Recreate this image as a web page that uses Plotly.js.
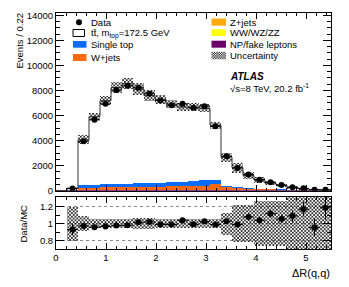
<!DOCTYPE html>
<html><head><meta charset="utf-8">
<script src="https://cdn.plot.ly/plotly-3.0.1.min.js"></script>
<style>html,body{margin:0;padding:0;background:#fff}</style>
</head><body><div id="chart" style="width:349px;height:287px"></div>
<script>
// ---------- data ----------
const binWidth = 0.22;
const binCenters = [0.11,0.33,0.55,0.77,0.99,1.21,1.43,1.65,1.87,2.09,2.31,2.53,2.75,2.97,3.19,3.41,3.63,3.85,4.07,4.29,4.51,4.73,4.95,5.17,5.39];
const dataEvents = [null,184,3944,5653,6933,8027,8373,8213,7733,7200,6827,6933,6613,6747,5147,2747,1813,1300,880,667,453,267,187,80,70];
const ttbar      = [0,111,3602,5433,6680,7694,7989,7512,6984,6657,6255,5983,5866,5750,4380,2275,1539,1006,677,457,315,155,90,34,19];
const singleTop  = [0,20,216,230,245,260,275,285,295,305,315,335,420,420,320,104,83,40,40,30,20,5,5,5,2];
const wJets      = [0,20,169,179,189,199,207,222,237,252,267,282,304,324,434,237,160,109,82,63,49,40,31,12,5];
const zJets      = [0,5,20,20,20,20,22,22,22,22,22,22,25,25,25,15,10,8,6,5,4,3,3,2,2];
const diboson    = [0,2,6,6,6,6,6,6,6,6,6,6,6,6,6,4,3,3,2,2,2,2,1,1,1];
const npFake     = [20,40,45,45,45,45,45,45,45,45,45,45,45,45,45,40,40,40,40,40,40,40,30,30,30];
const relUncertainty = [null,0.2,0.09,0.05,0.05,0.05,0.05,0.06,0.06,0.05,0.05,0.05,0.05,0.05,0.05,0.13,0.22,0.22,0.27,0.27,0.27,0.4,0.4,0.4,0.4];
const ratioTicks = [0.8,1,1.2];
const ratioTickText = ['0.8','1','1.2'];

const colors = {tt:'#ffffff', st:'#0a6cff', wj:'#ff6a10', zj:'#ffaa10', vv:'#ffff10', np:'#6a006a'};
const FONT = 'Liberation Sans, Arial, Helvetica, sans-serif';

// ---------- derived ----------
const n = binCenters.length;
const stackOrder = [npFake, diboson, zJets, wJets, singleTop, ttbar];
const stackColors = [colors.np, colors.vv, colors.zj, colors.wj, colors.st, colors.tt];
const stackNames = ['NP/fake leptons','WW/WZ/ZZ','Z+jets','W+jets','Single top','tt̄'];
let cum = new Array(n).fill(0);
const traces = [];
stackOrder.forEach((arr, k) => {
  const base = cum.slice();
  traces.push({type:'bar', x:binCenters, y:arr, base:base, width:binWidth,
    marker:{color:stackColors[k], line:{width:0}}, name:stackNames[k],
    xaxis:'x', yaxis:'y', showlegend:false, hoverinfo:'skip'});
  cum = cum.map((c,i)=>c+arr[i]);
});
const totalMC = cum;
const hatch = {shape:'x', size:2.5, solidity:0.55, fgcolor:'#222', bgcolor:'rgba(0,0,0,0)'};
// uncertainty band main
traces.push({type:'bar', x:binCenters,
  y:totalMC.map((t,i)=> relUncertainty[i]==null?null:2*relUncertainty[i]*t),
  base:totalMC.map((t,i)=> relUncertainty[i]==null?null:t*(1-relUncertainty[i])),
  width:binWidth, xaxis:'x', yaxis:'y', showlegend:false,
  marker:{color:'rgba(0,0,0,0)', line:{width:0}, pattern:hatch}});
// ratio band
traces.push({type:'bar', x:binCenters,
  y:relUncertainty.map(u=> u==null?null:2*u),
  base:relUncertainty.map(u=> u==null?null:1-u),
  width:binWidth, xaxis:'x2', yaxis:'y2', showlegend:false,
  marker:{color:'rgba(0,0,0,0)', line:{width:0}, pattern:hatch}});
// outline step of total MC
const edges = binCenters.map(c=>c-binWidth/2).concat([binCenters[n-1]+binWidth/2]);
traces.push({type:'scatter', mode:'lines', x:edges, y:totalMC.concat([totalMC[n-1]]),
  line:{shape:'hv', color:'#333', width:1}, xaxis:'x', yaxis:'y', showlegend:false});
// data points
const dataErr = dataEvents.map(d=> d==null?null:Math.sqrt(d));
traces.push({type:'scatter', mode:'markers', x:binCenters, y:dataEvents,
  marker:{color:'#000', size:6}, xaxis:'x', yaxis:'y', showlegend:false,
  error_y:{type:'data', array:dataErr, color:'#000', thickness:1, width:0},
  error_x:{type:'constant', value:binWidth/2, color:'#000', thickness:1, width:0}});
const ratio = dataEvents.map((d,i)=> d==null?null:d/totalMC[i]);
const ratioErr = dataEvents.map((d,i)=> d==null?null:Math.sqrt(d)/totalMC[i]);
traces.push({type:'scatter', mode:'markers', x:binCenters, y:ratio,
  marker:{color:'#000', size:6}, xaxis:'x2', yaxis:'y2', showlegend:false,
  error_y:{type:'data', array:ratioErr, color:'#000', thickness:1, width:0},
  error_x:{type:'constant', value:binWidth/2, color:'#000', thickness:1, width:0}});

// ---------- layout helpers (pixel -> paper) ----------
const M = {l:56, r:18, t:13, b:38};
const PW = 349 - M.l - M.r, PH = 287 - M.t - M.b;
const px = p => (p - M.l)/PW;
const py = p => (287 - M.b - p)/PH;

const shapes = [];
const annotations = [];
function txt(x,y,t,size,opts){
  annotations.push(Object.assign({xref:'paper',yref:'paper',x:px(x),y:py(y),text:t,showarrow:false,
    xanchor:'left',yanchor:'middle',font:{family:FONT,size:size,color:'#000'}},opts||{}));
}
function box(x0,y0,x1,y1,fill,line){
  shapes.push({type:'rect',xref:'paper',yref:'paper',x0:px(x0),x1:px(x1),y0:py(y1),y1:py(y0),
    fillcolor:fill,line:{color:line||fill,width:line?1:0}});
}
// legend left column
const legLeft = [['Data',22.3],['tt̄, m<sub>top</sub>=172.5 GeV',33],['Single top',44.3],['W+jets',57.3]];
shapes.push({type:'circle',xref:'paper',yref:'paper',x0:px(76),x1:px(82),y0:py(25.3),y1:py(19.3),fillcolor:'#000',line:{width:0}});
box(73,29.5,84.5,36.5,'#fff','#000');
box(73,41,86.5,47.7,colors.st);
box(73,54,86.5,61,colors.wj);
legLeft.forEach(e=>txt(89.3,e[1],e[0],9.5));
// legend right column
const legRight = [['Z+jets',22],['WW/WZ/ZZ',32.7],['NP/fake leptons',44.2],['Uncertainty',55.5]];
box(211.5,18.5,226,25.7,colors.zj);
box(211.5,29.3,226,36,colors.vv);
box(211.5,40.7,226,47.7,colors.np);
// hatched legend box: checker path
(function(){
  const x0=211.5,x1=226,y0=51.7,y1=59.3,s=1.2;
  let d='';
  for(let yy=y0, r=0; yy<y1-0.01; yy+=s, r++){
    for(let xx=x0+(r%2)*s; xx<x1-0.01; xx+=2*s){
      const xe=Math.min(xx+s,x1), ye=Math.min(yy+s,y1);
      d+='M'+px(xx)+','+py(yy)+'L'+px(xe)+','+py(yy)+'L'+px(xe)+','+py(ye)+'L'+px(xx)+','+py(ye)+'Z';
    }
  }
  shapes.push({type:'path',xref:'paper',yref:'paper',path:d,fillcolor:'#222',line:{width:0}});
})();
legRight.forEach(e=>txt(228.3,e[1],e[0],9.5));
// ATLAS label
txt(228.3,76.7,'<b><i>ATLAS</i></b>',10);
txt(228.3,88.3,'√s=8 TeV, 20.2 fb<sup>-1</sup>',9.5);
// axis titles
annotations.push({xref:'paper',yref:'paper',x:px(19),y:py(12),text:'Events / 0.22',textangle:-90,showarrow:false,
  xanchor:'center',yanchor:'top',font:{family:FONT,size:9.5,color:'#000'}});
annotations.push({xref:'paper',yref:'paper',x:px(22.5),y:py(224),text:'Data/MC',textangle:-90,showarrow:false,
  xanchor:'center',yanchor:'middle',font:{family:FONT,size:9.5,color:'#000'}});
annotations.push({xref:'paper',yref:'paper',x:px(331.5),y:py(273.3),text:'ΔR(q,q)',showarrow:false,
  xanchor:'right',yanchor:'middle',font:{family:FONT,size:11,color:'#000'}});

const axCommon = {showline:true, linecolor:'#000', linewidth:1, mirror:'ticks', ticks:'inside',
  tickcolor:'#000', zeroline:false, showgrid:false, tickfont:{family:FONT,size:9.5,color:'#000'}};
const layout = {
  width:349, height:287, margin:M, paper_bgcolor:'#fff', plot_bgcolor:'#fff',
  barmode:'overlay', bargap:0, showlegend:false,
  font:{family:FONT,size:9.5,color:'#000'},
  xaxis:Object.assign({}, axCommon, {domain:[0,1], anchor:'y', range:[0,5.5], dtick:1, tick0:0, ticklen:6,
    showticklabels:false, matches:'x2', minor:{ticks:'inside', dtick:0.2, ticklen:3, tickcolor:'#000'}}),
  yaxis:Object.assign({}, axCommon, {domain:[py(190.7),1], anchor:'x', range:[0,14180], dtick:2000, tick0:0,
    tickformat:'d', ticklen:8, minor:{ticks:'inside', dtick:500, ticklen:4, tickcolor:'#000'}}),
  xaxis2:Object.assign({}, axCommon, {domain:[0,1], anchor:'y2', range:[0,5.5], dtick:1, tick0:0, ticklen:6,
    minor:{ticks:'inside', dtick:0.2, ticklen:3, tickcolor:'#000'}}),
  yaxis2:Object.assign({}, axCommon, {domain:[0,py(197.3)], anchor:'x2', range:[0.7,1.31],
    tickvals:ratioTicks, ticktext:ratioTickText, ticklen:8, showgrid:true, gridcolor:'#888', griddash:'dot', gridwidth:1,
    minor:{ticks:'inside', dtick:0.1, ticklen:4, tickcolor:'#000'}}),
  shapes:shapes, annotations:annotations
};
Plotly.newPlot('chart', traces, layout, {staticPlot:true, displayModeBar:false});
</script></body></html>
